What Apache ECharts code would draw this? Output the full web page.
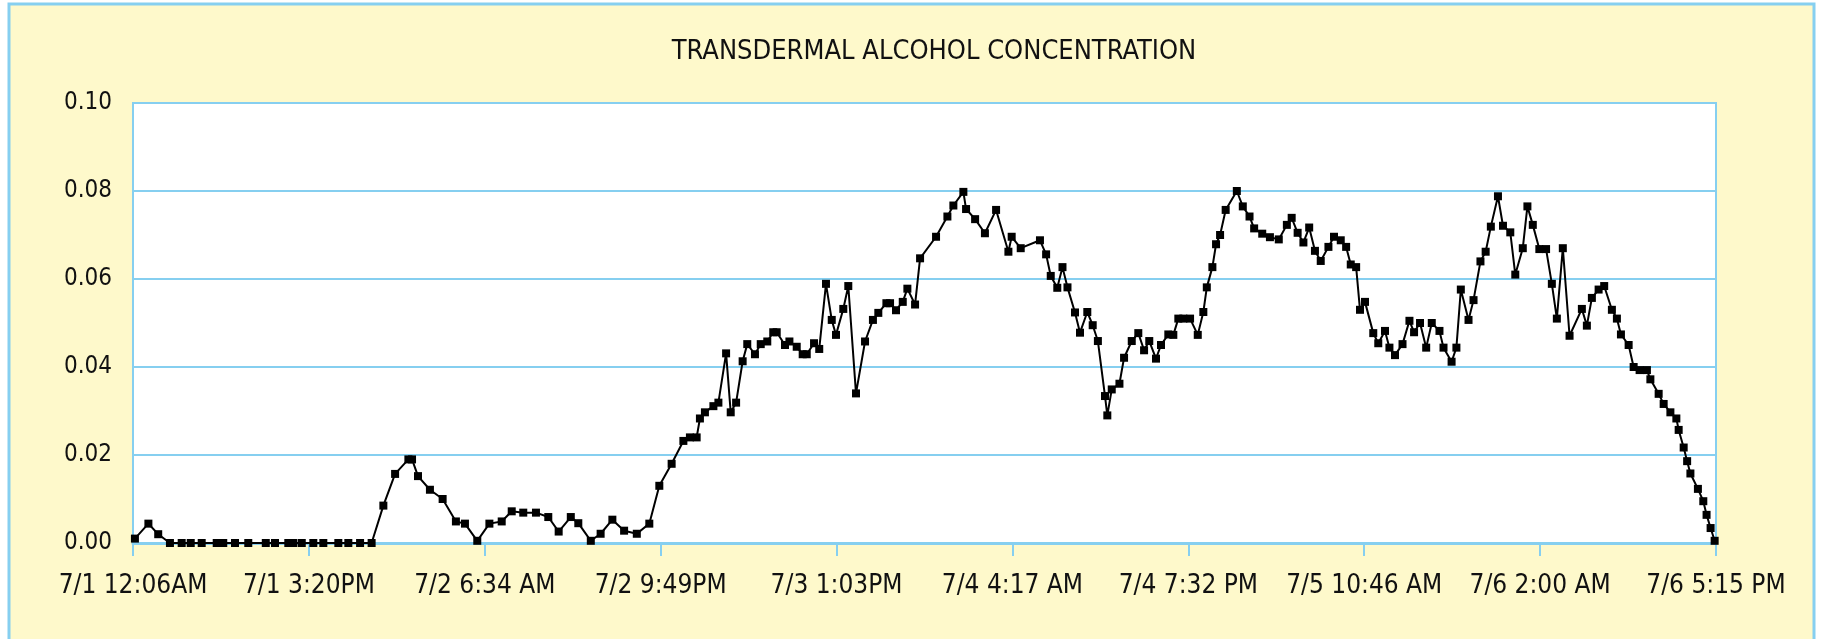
<!DOCTYPE html>
<html lang="en">
<head>
    <meta charset="UTF-8">
    <title>Transdermal Alcohol Concentration</title>
    <style>
        html, body {
            margin: 0;
            padding: 0;
            background: #ffffff;
        }
        #main {
            width: 1821px;
            height: 639px;
        }
    </style>
</head>
<body>
<div id="main"></div>
<script src="https://cdn.jsdelivr.net/npm/echarts@6/dist/echarts.min.js"></script>
<script>
    // x = minutes since 7/1 12:06AM, one tick label every 914 min (15h14m)
    var tickLabels = ['7/1 12:06AM', '7/1 3:20PM', '7/2 6:34 AM', '7/2 9:49PM', '7/3 1:03PM',
        '7/4 4:17 AM', '7/4 7:32 PM', '7/5 10:46 AM', '7/6 2:00 AM', '7/6 5:15 PM'];
    var tickStep = 914;

    var sampleMinutes = [
        10, 80, 131, 192, 253, 300, 357, 435, 469, 530, 599, 690, 738, 807, 833, 877, 937, 989,
        1067, 1119, 1180, 1240, 1301, 1362, 1431, 1450, 1481, 1543, 1609, 1678, 1725, 1789, 1852,
        1916, 1968, 2028, 2094, 2158, 2212, 2275, 2314, 2379, 2430, 2491, 2552, 2618, 2683, 2735,
        2799, 2860, 2894, 2929, 2946, 2972, 3016, 3042, 3082, 3106, 3134, 3168, 3192, 3232, 3262,
        3296, 3327, 3345, 3388, 3411, 3449, 3480, 3501, 3539, 3566, 3601, 3631, 3653, 3691, 3717,
        3757, 3804, 3845, 3873, 3915, 3934, 3965, 4000, 4024, 4064, 4090, 4173, 4232, 4263, 4315,
        4329, 4376, 4427, 4485, 4549, 4566, 4613, 4713, 4745, 4769, 4803, 4830, 4856, 4895, 4921,
        4959, 4987, 5014, 5051, 5063, 5086, 5126, 5150, 5190, 5224, 5254, 5281, 5316, 5342, 5380,
        5406, 5432, 5458, 5493, 5533, 5562, 5580, 5609, 5628, 5649, 5678, 5736, 5767, 5802, 5826,
        5868, 5908, 5954, 5996, 6021, 6052, 6082, 6112, 6142, 6172, 6212, 6241, 6276, 6304, 6328,
        6356, 6376, 6402, 6445, 6471, 6506, 6529, 6558, 6597, 6633, 6657, 6688, 6720, 6749, 6789,
        6810, 6852, 6877, 6900, 6940, 6966, 7002, 7029, 7056, 7093, 7119, 7157, 7183, 7222, 7246,
        7274, 7308, 7343, 7373, 7399, 7430, 7465, 7529, 7555, 7581, 7616, 7645, 7685, 7711, 7732,
        7772, 7798, 7829, 7867, 7885, 7928, 7954, 7989, 8020, 8032, 8058, 8076, 8093, 8132, 8160,
        8177, 8198, 8219
    ];

    var tacValues = [
        0.001, 0.0044, 0.002, 0, 0, 0, 0, 0, 0, 0, 0, 0, 0, 0, 0, 0, 0, 0,
        0, 0, 0, 0, 0.0085, 0.0157, 0.019, 0.019, 0.0152, 0.0121, 0.010, 0.0049, 0.0044, 0.0005, 0.0044,
        0.0049, 0.0072, 0.0069, 0.0069, 0.0059, 0.0026, 0.0059, 0.0045, 0.0005, 0.0021, 0.0053, 0.0028, 0.0021, 0.0044, 0.013,
        0.018, 0.0232, 0.024, 0.024, 0.0283, 0.0297, 0.0311, 0.0319, 0.0431, 0.0297, 0.0319, 0.0413, 0.0452, 0.0429, 0.0452,
        0.0458, 0.0479, 0.0479, 0.045, 0.0458, 0.0446, 0.0429, 0.0429, 0.0454, 0.0441, 0.0589, 0.0507, 0.0473, 0.0532, 0.0584,
        0.034, 0.0458, 0.0507, 0.0523, 0.0545, 0.0545, 0.0529, 0.0548, 0.0578, 0.0542, 0.0647, 0.0696, 0.0742, 0.0767, 0.0798,
        0.0759, 0.0736, 0.0704, 0.0757, 0.0662, 0.0696, 0.067, 0.0688, 0.0656, 0.0607, 0.058, 0.0627, 0.0581, 0.0524, 0.0478,
        0.0525, 0.0495, 0.0459, 0.0334, 0.029, 0.0349, 0.0362, 0.0421, 0.0459, 0.0477, 0.0438, 0.0459, 0.0419, 0.045, 0.0474,
        0.0473, 0.051, 0.051, 0.051, 0.0473, 0.0525, 0.0581, 0.0627, 0.0679, 0.07, 0.0757, 0.08, 0.0765, 0.0742, 0.0715,
        0.0703, 0.0695, 0.069, 0.0723, 0.0739, 0.0705, 0.0683, 0.0717, 0.0664, 0.0641, 0.0673, 0.0696, 0.0688, 0.0673, 0.0633,
        0.0627, 0.053, 0.0548, 0.0477, 0.0454, 0.0482, 0.0444, 0.0427, 0.0452, 0.0505, 0.0479, 0.05, 0.0444, 0.05, 0.0482,
        0.0444, 0.0412, 0.0444, 0.0576, 0.0507, 0.0552, 0.064, 0.0662, 0.0719, 0.0788, 0.0721, 0.0706, 0.061, 0.067, 0.0765,
        0.0723, 0.0668, 0.0668, 0.0589, 0.051, 0.067, 0.0471, 0.0532, 0.0494, 0.0557, 0.0576, 0.0584, 0.053, 0.051, 0.0474,
        0.045, 0.04, 0.0393, 0.0393, 0.0372, 0.0339, 0.0316, 0.0297, 0.0283, 0.0257, 0.0217, 0.0186, 0.0158, 0.0123, 0.0095,
        0.0064, 0.0034, 0.0005
    ];

    var blue = '#86cff0';
    var font = "'DejaVu Sans Condensed', 'Liberation Sans Narrow', sans-serif";

    var points = sampleMinutes.map(function (m, i) {
        return [m, tacValues[i]];
    });

    var chart = echarts.init(document.getElementById('main'));
    chart.setOption({
        animation: false,
        backgroundColor: '#ffffff',
        graphic: [
            {
                type: 'rect',
                z: -10,
                shape: {x: 9, y: 4, width: 1805, height: 650},
                style: {fill: '#fef9cb', stroke: blue, lineWidth: 3}
            }
        ],
        title: {
            text: 'TRANSDERMAL ALCOHOL CONCENTRATION',
            left: 929,
            top: 33,
            textAlign: 'center',
            textStyle: {
                fontFamily: font,
                fontSize: 27,
                fontWeight: 'normal',
                color: '#111'
            }
        },
        grid: {
            left: 133,
            right: 105,
            top: 103,
            bottom: 96,
            show: true,
            backgroundColor: '#ffffff',
            borderColor: blue,
            borderWidth: 2
        },
        xAxis: {
            type: 'value',
            min: 0,
            max: tickStep * 9,
            interval: tickStep,
            axisLine: {show: true, lineStyle: {color: blue, width: 3}},
            axisTick: {show: true, length: 13, lineStyle: {color: blue, width: 2}},
            splitLine: {show: false},
            axisLabel: {
                margin: 30,
                fontFamily: font,
                fontSize: 26,
                color: '#111',
                showMinLabel: true,
                showMaxLabel: true,
                formatter: function (v) {
                    return tickLabels[Math.round(v / tickStep)];
                }
            }
        },
        yAxis: {
            type: 'value',
            min: 0,
            max: 0.1,
            interval: 0.02,
            axisLine: {show: true, lineStyle: {color: blue, width: 2}},
            axisTick: {show: false},
            splitLine: {show: true, lineStyle: {color: blue, width: 2}},
            axisLabel: {
                margin: 21,
                fontFamily: font,
                fontSize: 24,
                color: '#111',
                formatter: function (v) {
                    return v.toFixed(2);
                }
            }
        },
        series: [
            {
                name: 'TAC',
                type: 'line',
                data: points,
                symbol: 'rect',
                symbolSize: 8,
                showAllSymbol: true,
                itemStyle: {color: '#000'},
                lineStyle: {color: '#000', width: 2}
            }
        ]
    });
</script>
</body>
</html>
